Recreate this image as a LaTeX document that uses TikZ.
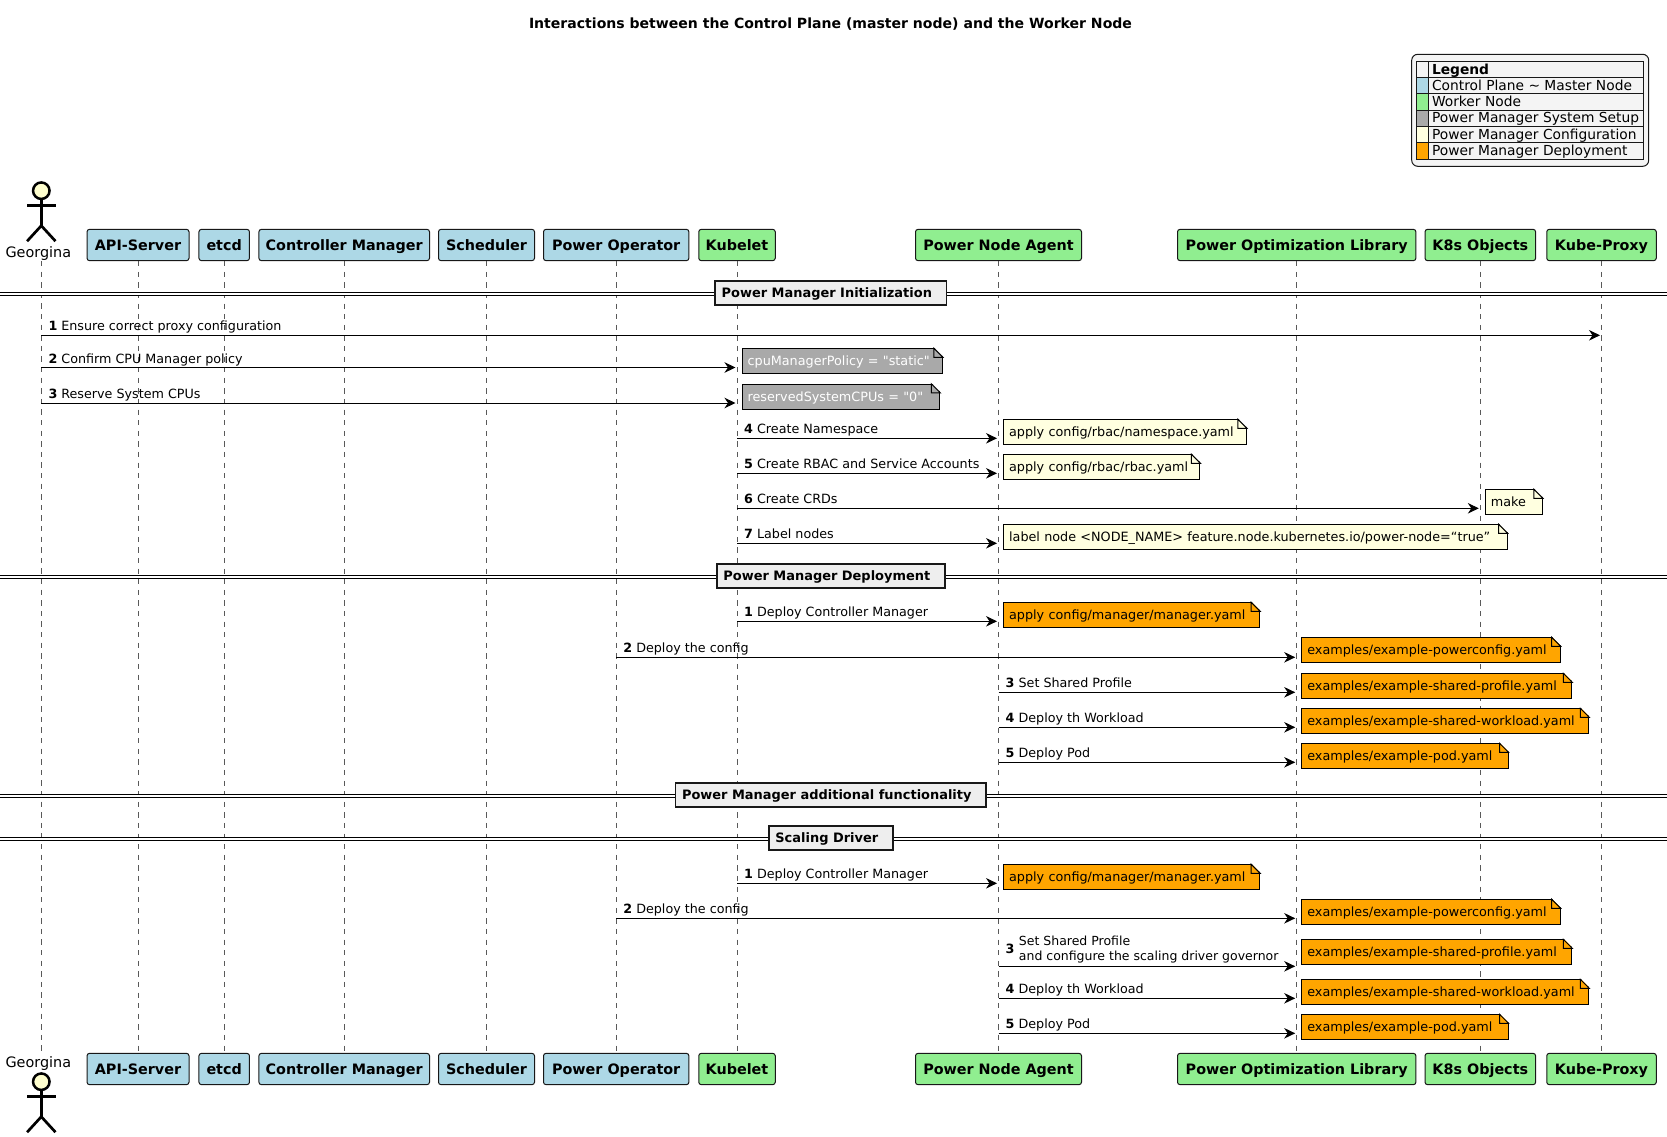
\documentclass[tikz,border=0pt]{standalone}
\usepackage{fontspec}
\setmainfont[Ligatures=TeXOff]{DejaVu Sans}
\usetikzlibrary{calc,arrows.meta,positioning}

\definecolor{masterblue}{HTML}{ADD8E6}
\definecolor{workergreen}{HTML}{90EE90}
\definecolor{setupgray}{HTML}{A9A9A9}
\definecolor{configyellow}{HTML}{FFFFE0}
\definecolor{deployorange}{HTML}{FFA500}
\definecolor{legendbg}{HTML}{F4F4F4}
\definecolor{dividerbg}{HTML}{EEEEEE}
\definecolor{headyellow}{HTML}{FEFECE}
\definecolor{ink}{HTML}{181818}

\tikzset{
  basefont/.style={font=\fontsize{12.72}{15.5}\selectfont},
  member/.style={draw=ink, line width=1pt, rounded corners=2.5pt, minimum height=31.3pt, inner sep=0pt,
    text height=12pt, text depth=1.4pt, font=\fontsize{14.35}{17}\selectfont\bfseries},
  lifeline/.style={draw=black!65, line width=1pt, dash pattern=on 5.3pt off 5.3pt},
  msgline/.style={draw=black, line width=1pt, shorten >=1.5pt, -{Stealth[length=11pt,width=10.5pt,inset=3.5pt]}},
  msgtext/.style={basefont, anchor=base west, inner sep=0pt},
  notebox/.style={font=\fontsize{12.78}{15}\selectfont, draw=black, line width=1pt, anchor=north west, minimum height=25pt,
    inner xsep=5.5pt, inner ysep=0pt, text height=11pt, text depth=2pt, align=left},
  divbox/.style={draw=ink, line width=1.7pt, fill=dividerbg, minimum height=24pt, inner xsep=6.5pt, inner ysep=0pt,
    text height=11pt, text depth=1.6pt, font=\fontsize{12.95}{15}\selectfont\bfseries},
  divline/.style={draw=black, line width=1pt, double, double distance=2pt},
  actorline/.style={draw=black, line width=2.7pt},
  actorhead/.style={circle, draw=black, line width=2.5pt, fill=headyellow, minimum size=16.5pt, inner sep=0pt},
  legendtext/.style={font=\fontsize{13.8}{16}\selectfont, anchor=base west, inner sep=0pt},
}

\newcommand{\notefold}[1]{
  \fill[white] ($(#1.north east)+(-9,-1)$) -- ($(#1.north east)+(1,-1)$) -- ($(#1.north east)+(1,9)$) -- cycle;
  \draw[line width=1pt] ($(#1.north east)+(-9,0)$) -- ($(#1.north east)+(0,9)$) -- ($(#1.north east)+(-9,9)$) -- cycle;
}

\begin{document}
\begin{tikzpicture}[x=1pt, y=-1pt]
  \useasboundingbox (0,0) rectangle (1667,1137);

  \node[font=\fontsize{14.05}{17}\selectfont\bfseries, inner sep=0pt] (title) at (830.5,24)
    {Interactions between the Control Plane (master node) and the Worker Node};

  % participants, top and bottom row
  \foreach \who/\lbl/\cx/\bw/\col in {
      api/API-Server/138/102/masterblue, etcd/etcd/224.2/50.5/masterblue,
      cman/Controller Manager/344.2/170.6/masterblue, sched/Scheduler/486.5/96/masterblue,
      pop/Power Operator/616.2/145.4/masterblue, kubelet/Kubelet/737/76.5/workergreen,
      agent/Power Node Agent/998.5/166/workergreen, lib/Power Optimization Library/1296.7/238.4/workergreen,
      objs/K8s Objects/1480.3/110.6/workergreen, proxy/Kube-Proxy/1601.5/109.5/workergreen} {
    \node[member, fill=\col, minimum width=\bw pt] (\who) at (\cx,245) {\lbl};
    \node[member, fill=\col, minimum width=\bw pt] (\who B) at (\cx,1069) {\lbl};
    \draw[lifeline] (\who.south) -- (\who B.north);
  }
  \coordinate (geo) at (41.3,261);
  \coordinate (geoB) at (41.3,1053);
  \draw[lifeline] (geo) -- (geoB);

  % the actor
  \node[font=\fontsize{14.4}{16}\selectfont, inner sep=0pt] (geoname) at (38.3,253.8) {Georgina};
  \node[font=\fontsize{14.4}{16}\selectfont, inner sep=0pt] (geonameB) at (38.3,1064) {Georgina};
  \foreach \v/\cy in {T/190.7, B/1081.7} {
    \node[actorhead] (head\v) at (41.3,\cy) {};
    \coordinate (hip\v) at (41.3,\cy+35);
    \draw[actorline] (head\v.south) -- (hip\v);
    \draw[actorline] ($(head\v.south)+(-14.2,5.5)$) -- ($(head\v.south)+(14.2,5.5)$);
    \draw[actorline] ($(hip\v)+(-14.2,15.5)$) -- (hip\v) -- ($(hip\v)+(14.2,15.5)$);
  }

  % dividers
  \foreach \id/\ny/\lbl in {
      init/294/Power Manager Initialization, depl/576.9/Power Manager Deployment,
      more/795.8/Power Manager additional functionality, scal/838.9/Scaling Driver} {
    \coordinate (\id L) at (0,\ny);
    \coordinate (\id R) at (1667,\ny);
    \draw[divline] (\id L) -- (\id R);
    \node[divbox] (\id) at (830.8,\ny-0.9) {\lbl\kern8pt};
  }

  % messages
  \foreach \id/\from/\to/\ny/\num/\lbl in {
      a1/geo/proxy/335.3/1/Ensure correct proxy configuration,
      a2/geo/kubelet/367.5/2/Confirm CPU Manager policy,
      a3/geo/kubelet/403/3/Reserve System CPUs,
      a4/kubelet/agent/438.3/4/Create Namespace,
      a5/kubelet/agent/473.3/5/Create RBAC and Service Accounts,
      a6/kubelet/objs/508.3/6/Create CRDs,
      a7/kubelet/agent/543.3/7/Label nodes,
      b1/kubelet/agent/621.3/1/Deploy Controller Manager,
      b2/pop/lib/657.3/2/Deploy the config,
      b3/agent/lib/692.3/3/Set Shared Profile,
      b4/agent/lib/727.3/4/Deploy th Workload,
      b5/agent/lib/762.3/5/Deploy Pod,
      c1/kubelet/agent/883.3/1/Deploy Controller Manager,
      c2/pop/lib/918.3/2/Deploy the config,
      c4/agent/lib/998.3/4/Deploy th Workload,
      c5/agent/lib/1033.3/5/Deploy Pod} {
    \coordinate (\id s) at (\from |- 0,\ny);
    \coordinate (\id e) at (\to |- 0,\ny);
    \draw[msgline] (\id s) -- (\id e);
    \node[msgtext] (\id t) at ($(\id s)+(7,-4.4)$) {\textbf{\num} \lbl};
  }
  % the one message with two lines
  \coordinate (c3s) at (agent |- 0,966.3);
  \coordinate (c3e) at (lib |- 0,966.3);
  \draw[msgline] (c3s) -- (c3e);
  \node[basefont, inner sep=0pt, anchor=west] (c3n) at ($(c3s)+(7,-17)$) {\textbf{3}};
  \node[font=\fontsize{12.5}{15.5}\selectfont, inner sep=0pt, anchor=west, align=left] (c3t) at ($(c3s)+(20.2,-16.7)$)
    {Set Shared Profile\\and configure the scaling driver governor};

  % notes
  \foreach \id/\life/\ny/\bw/\col/\txt/\lbl in {
      na2/kubelet/348.3/200.3/setupgray/white/{cpuManagerPolicy = "static"},
      na3/kubelet/383.8/197.7/setupgray/white/{reservedSystemCPUs = "0"},
      na4/agent/419.3/242.8/configyellow/black/{apply config/rbac/namespace.yaml},
      na5/agent/454.3/196.3/configyellow/black/{apply config/rbac/rbac.yaml},
      na6/objs/489.3/57/configyellow/black/{make},
      na7/agent/524.3/503.5/configyellow/black/{label node <NODE\_NAME> feature.node.kubernetes.io/power-node=“true”},
      nb1/agent/602.3/256.1/deployorange/black/{apply config/manager/manager.yaml},
      nb2/lib/637.3/258.4/deployorange/black/{examples/example-powerconfig.yaml},
      nb3/lib/673.3/270/deployorange/black/{examples/example-shared-profile.yaml},
      nb4/lib/708.3/287/deployorange/black/{examples/example-shared-workload.yaml},
      nb5/lib/743.3/206.2/deployorange/black/{examples/example-pod.yaml},
      nc1/agent/864.3/256.1/deployorange/black/{apply config/manager/manager.yaml},
      nc2/lib/899.3/258.4/deployorange/black/{examples/example-powerconfig.yaml},
      nc3/lib/939.3/270/deployorange/black/{examples/example-shared-profile.yaml},
      nc4/lib/979.3/287/deployorange/black/{examples/example-shared-workload.yaml},
      nc5/lib/1014.3/206.2/deployorange/black/{examples/example-pod.yaml}} {
    \node[notebox, fill=\col, text=\txt, text width=\bw pt-11pt] (\id) at ($(\life |- 0,\ny)+(4.6,0)$) {\mbox{\lbl}};
    \notefold{\id}
  }

  % legend
  \node[draw=ink, line width=1pt, fill=legendbg, rounded corners=6pt, minimum width=237pt, minimum height=112pt,
    inner sep=0pt] (legend) at (1530.2,110.3) {};
  \foreach \row/\ya/\yb/\col/\lbl in {
      0/61.7/77.7/legendbg/\textbf{Legend}, 1/77.7/93.7/masterblue/Control Plane \textasciitilde{} Master Node,
      2/93.7/110.3/workergreen/Worker Node, 3/110.3/126.3/setupgray/Power Manager System Setup,
      4/126.3/142.7/configyellow/Power Manager Configuration, 5/142.7/159/deployorange/Power Manager Deployment} {
    \draw[draw=ink, line width=1pt, fill=\col] (1416.7,\ya) rectangle (1428.7,\yb);
    \draw[draw=ink, line width=1pt] (1428.7,\ya) rectangle (1643.7,\yb);
    \node[legendtext] (row\row) at (1431.8,\yb-3.3) {\lbl};
  }
\end{tikzpicture}
\end{document}
